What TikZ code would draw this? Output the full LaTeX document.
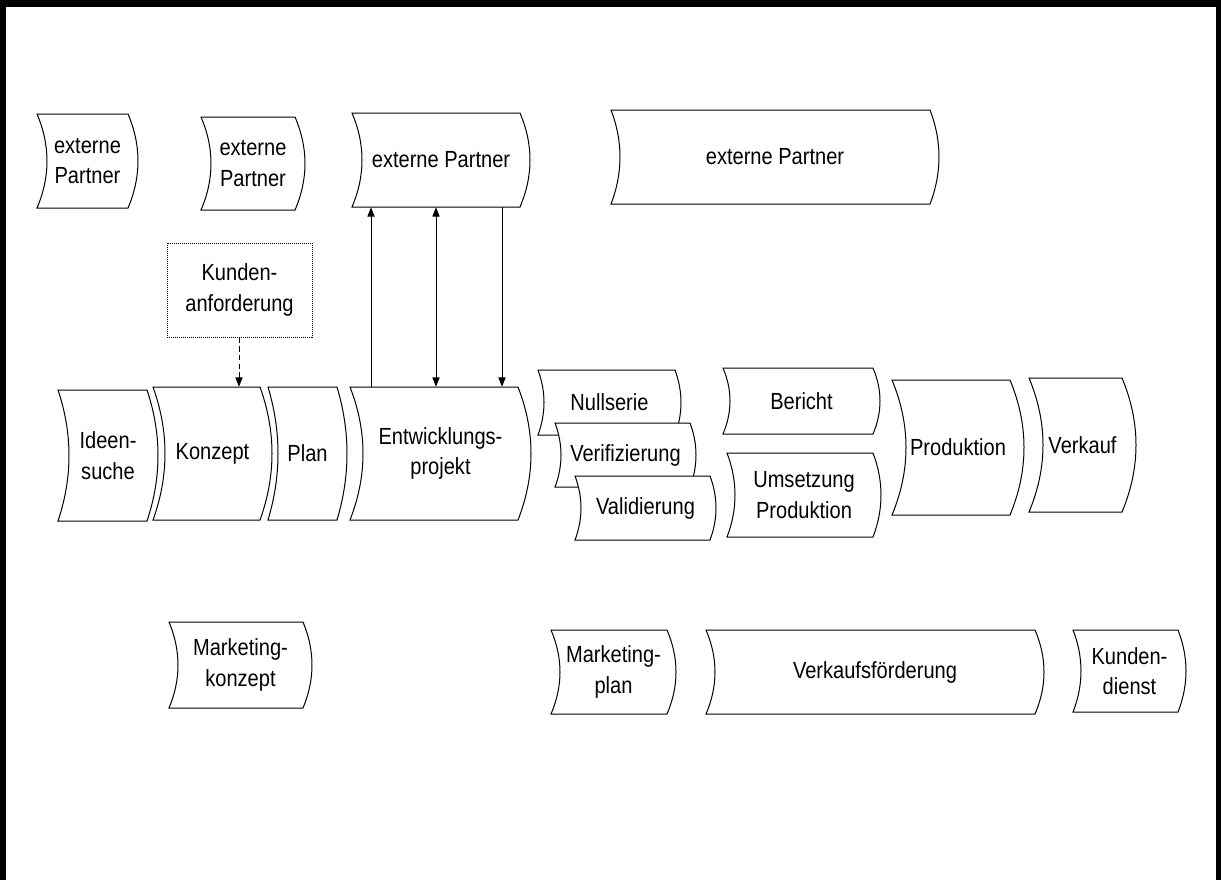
\documentclass[tikz,border=0pt]{standalone}
\usepackage{fontspec}
\setmainfont[FakeStretch=0.86]{Liberation Sans}
\usetikzlibrary{arrows.meta,calc}

% Process step with both side edges curved to the right.
% #1 name, #2 left x, #3 top y, #4 right x, #5 bottom y, #6 bulge, #7 text
\newcommand\wavestep[7]{%
  \draw[wavestroke] (#2,#3) -- (#4,#3)
    .. controls ({#4+4*#6/3},{#3+(#5-#3)/3}) and ({#4+4*#6/3},{#3+2*(#5-#3)/3}) .. (#4,#5)
    -- (#2,#5)
    .. controls ({#2+4*#6/3},{#3+2*(#5-#3)/3}) and ({#2+4*#6/3},{#3+(#5-#3)/3}) .. (#2,#3)
    -- cycle;
  \node[wavelabel, minimum width={(#4-#2)*0.75pt}, minimum height={(#5-#3)*0.75pt}]
    (#1) at ({(#2+#4)/2+#6/2},{(#3+#5)/2}) {#7};%
}

\tikzset{
  wavestroke/.style={draw=black, line width=0.75pt, fill=white, line join=miter},
  wavelabel/.style={inner sep=0pt, align=center, text=black,
    font=\fontsize{17.5pt}{23pt}\selectfont},
  notebox/.style={draw=black, line width=0.75pt, dash pattern=on 0.75pt off 0.75pt,
    inner sep=0pt, align=center, font=\fontsize{17.5pt}{23pt}\selectfont},
  tip/.tip={Triangle[length=7pt,width=5.4pt]},
  flow/.style={draw=black, line width=0.75pt, -tip},
  flowboth/.style={draw=black, line width=0.75pt, tip-tip},
  hint/.style={draw=black, line width=0.75pt, dash pattern=on 4pt off 2.5pt, -tip},
  frame/.style={draw=black, line width=4.8pt}
}

\begin{document}
\begin{tikzpicture}[x=0.75pt, y=-0.75pt]
  \useasboundingbox (0,0) rectangle (1221,879);
  \fill[white] (0,0) rectangle (1221,879);

  % outer frame, open at the bottom
  \draw[frame] (3,900) -- (3,3.5) -- (1219,3.5) -- (1219,900);

  % external partners
  \wavestep{extA}{37}{114}{128}{208}{10}{externe\\Partner}
  \wavestep{extB}{201}{117}{295}{210}{10}{externe\\Partner}
  \wavestep{extC}{352}{113}{520}{207}{10}{externe Partner}
  \wavestep{extD}{611}{110}{930}{204}{9}{externe Partner}

  % customer requirement
  \node[notebox, minimum width={145*0.75pt}, minimum height={94*0.75pt}]
    (kunde) at (239.5,290) {Kunden-\\anforderung};

  % main process chain
  \wavestep{idee}{58}{390}{147}{521}{11}{Ideen-\\suche}
  \wavestep{konzept}{153}{387}{260}{520}{12}{Konzept}
  \wavestep{plan}{268}{387}{337}{520}{10}{Plan}
  \wavestep{entw}{350}{387}{518}{520}{13}{Entwicklungs-\\projekt}

  \wavestep{null}{538}{370}{675}{435}{6}{Nullserie}
  \wavestep{veri}{555}{423}{690}{487}{6}{Verifizierung}
  \wavestep{vali}{575}{476}{710}{540}{6}{Validierung}

  \wavestep{bericht}{723}{368}{873}{434}{7}{Bericht}
  \wavestep{umsetz}{727}{453}{873}{537}{8}{Umsetzung\\Produktion}

  \wavestep{prod}{892}{380}{1010}{515}{14}{Produktion}
  \wavestep{verkauf}{1029}{378}{1122}{512}{14}{Verkauf}

  % marketing row
  \wavestep{mkonzept}{169}{622}{303}{708}{9}{Marketing-\\konzept}
  \wavestep{mplan}{551}{630}{667}{714}{9}{Marketing-\\plan}
  \wavestep{vfoerd}{706}{630}{1035}{714}{9}{Verkaufsförderung}
  \wavestep{kdienst}{1073}{630}{1178}{712}{8}{Kunden-\\dienst}

  % connectors
  \coordinate (colA) at (371,0);
  \coordinate (colB) at (436,0);
  \coordinate (colC) at (502,0);
  \coordinate (colK) at (239,0);

  \draw[flow] (entw.north -| colA) -- (extC.south -| colA);
  \draw[flowboth] (extC.south -| colB) -- (entw.north -| colB);
  \draw[flow] (extC.south -| colC) -- (entw.north -| colC);
  \draw[hint] (kunde.south -| colK) -- (konzept.north -| colK);
\end{tikzpicture}
\end{document}
